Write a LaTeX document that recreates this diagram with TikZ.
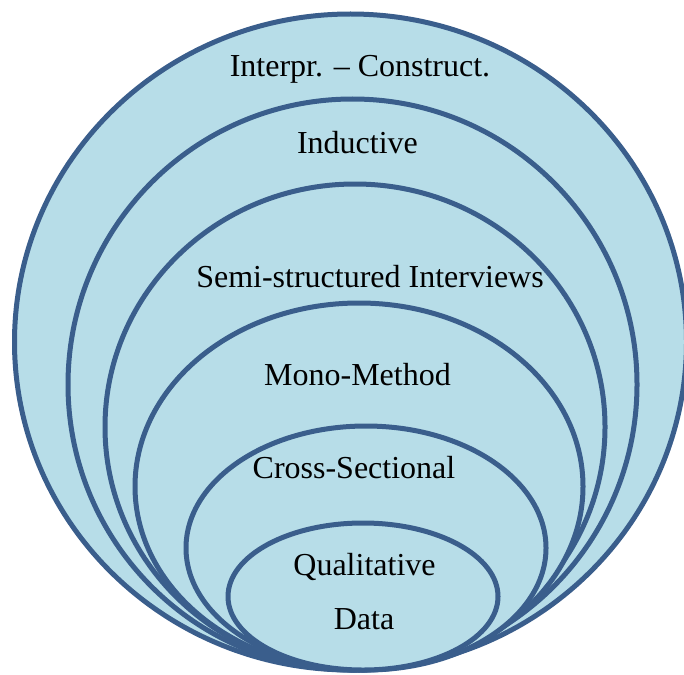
\documentclass[tikz,border=0pt]{standalone}
\usepackage{fontspec}
\setmainfont{Liberation Serif}
\definecolor{ringfill}{HTML}{B7DDE8}
\definecolor{ringline}{HTML}{3A5E8C}
\tikzset{
  ring/.style={fill=ringfill, draw=ringline, line width=2.5pt},
  lbl/.style={font=\fontsize{16}{19}\selectfont, text=black, inner sep=0pt, anchor=center}
}
\begin{document}
\begin{tikzpicture}[x=0.5pt, y=-0.5pt]
\useasboundingbox (0,0) rectangle (684,674);
\clip (0,0) rectangle (684,674);
\filldraw[ring] (350.5,342) ellipse [x radius=168pt, y radius=164pt];
\filldraw[ring] (352.5,384.5) ellipse [x radius=142.25pt, y radius=142.75pt];
\filldraw[ring] (355,427) ellipse [x radius=125pt, y radius=121.5pt];
\filldraw[ring] (359,486.5) ellipse [x radius=112pt, y radius=91.75pt];
\filldraw[ring] (366,548) ellipse [x radius=90pt, y radius=61pt];
\filldraw[ring] (363,596.5) ellipse [x radius=67.5pt, y radius=36.75pt];
\node[lbl] (interp) at (360,69) {Interpr. – Construct.};
\node[lbl] (induct) at (357.5,143) {Inductive};
\node[lbl] (semi) at (370,277) {Semi-structured Interviews};
\node[lbl] (mono) at (357.5,375) {Mono-Method};
\node[lbl] (cross) at (354,468) {Cross-Sectional};
\node[lbl] (qual) at (364.5,567) {Qualitative};
\node[lbl] (data) at (364,619) {Data};
\end{tikzpicture}
\end{document}
